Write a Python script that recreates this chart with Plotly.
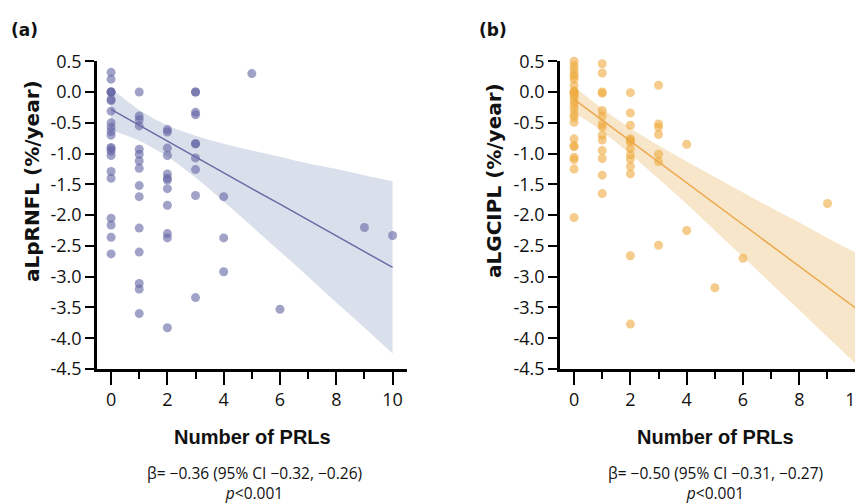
import plotly.graph_objects as go

W, H = 863, 504

# ---------------- data ----------------
left_prl = ([0] * 22 + [1] * 15 + [2] * 12 + [3] * 10 + [4] * 3 + [5, 6, 9, 10])
left_rnfl = [0.32, 0.21, 0.0, 0.0, 0.0, -0.12, -0.14, -0.31, -0.50, -0.57, -0.64,
             -0.70, -0.90, -0.92, -0.96, -1.03, -1.29, -1.40, -2.05, -2.16, -2.36, -2.63,
             0.0, -0.39, -0.45, -0.55, -0.93, -1.01, -1.12, -1.24, -1.52, -1.70, -2.21,
             -2.60, -3.11, -3.20, -3.60,
             -0.61, -0.65, -0.91, -1.03, -1.33, -1.40, -1.43, -1.57, -1.84, -2.30, -2.37, -3.83,
             0.0, 0.0, -0.33, -0.37, -0.84, -0.84, -1.07, -1.26, -1.68, -3.34,
             -1.70, -2.37, -2.92,
             0.30, -3.53, -2.20, -2.33]

right_prl = ([0] * 25 + [1] * 14 + [2] * 13 + [3] * 7 + [4] * 2 + [5, 6, 9])
right_gcipl = [0.50, 0.43, 0.37, 0.30, 0.26, 0.21, 0.11, 0.02, 0.0, -0.02, -0.05, -0.10,
               -0.16, -0.22, -0.28, -0.36, -0.41, -0.49, -0.76, -0.87, -0.89, -1.06, -1.10,
               -1.25, -2.04,
               0.46, 0.31, 0.0, -0.02, -0.30, -0.39, -0.52, -0.57, -0.70, -0.78, -0.95,
               -1.08, -1.35, -1.65,
               -0.01, -0.34, -0.54, -0.76, -0.78, -0.81, -0.92, -1.02, -1.09, -1.21, -1.33,
               -2.66, -3.77,
               0.11, -0.52, -0.57, -0.69, -1.01, -1.13, -2.49,
               -0.85, -2.25,
               -3.18, -2.70, -1.81]

fit_x = [0, 1, 2, 3, 4, 5, 6, 7, 8, 9, 10]
left_fit = [-0.28, -0.54, -0.79, -1.05, -1.31, -1.57, -1.82, -2.08, -2.34, -2.59, -2.85]
left_upper = [0.06, -0.29, -0.54, -0.71, -0.84, -0.95, -1.05, -1.16, -1.25, -1.35, -1.45]
left_lower = [-0.62, -0.79, -1.05, -1.39, -1.78, -2.18, -2.59, -3.00, -3.42, -3.83, -4.25]
right_fit = [-0.12, -0.46, -0.80, -1.14, -1.48, -1.82, -2.15, -2.49, -2.83, -3.17, -3.51]
right_upper = [0.09, -0.27, -0.59, -0.87, -1.13, -1.38, -1.63, -1.88, -2.12, -2.37, -2.61]
right_lower = [-0.33, -0.64, -1.01, -1.41, -1.82, -2.25, -2.68, -3.11, -3.54, -3.98, -4.41]

y_ticks = [0.5, 0.0, -0.5, -1.0, -1.5, -2.0, -2.5, -3.0, -3.5, -4.0, -4.5]
y_tick_labels = ["0.5", "0.0", "-0.5", "-1.0", "-1.5", "-2.0", "-2.5", "-3.0",
                 "-3.5", "-4.0", "-4.5"]
x_ticks = [0, 2, 4, 6, 8, 10]
x_tick_labels = ["0", "2", "4", "6", "8", "10"]

panel_labels = ["(a)", "(b)"]
y_titles = ["aLpRNFL (%/year)", "aLGCIPL (%/year)"]
x_title = "Number of PRLs"
stats = ["β= −0.36 (95% CI −0.32, −0.26)", "β= −0.50 (95% CI −0.31, −0.27)"]
p_text = "<i>p</i>&lt;0.001"

# ---------------- styles ----------------
L_PT = "rgba(98,100,163,0.6)"
L_LINE = "#6a6ba6"
L_BAND = "rgb(218,224,235)"
R_PT = "rgba(238,170,62,0.6)"
R_LINE = "#eca84c"
R_BAND = "rgb(247,230,201)"

TICK_FONT = dict(family="Open Sans, sans-serif", size=18, color="#111")

fig = go.Figure()


def add_panel(xs, ys, fx, fit, up, lo, pt, lc, bc, xa, ya):
    fig.add_trace(go.Scatter(x=fx, y=up, mode="lines", line=dict(width=0, shape="spline"),
                             hoverinfo="skip", showlegend=False, xaxis=xa, yaxis=ya))
    fig.add_trace(go.Scatter(x=fx, y=lo, mode="lines", line=dict(width=0, shape="spline"),
                             fill="tonexty", fillcolor=bc, hoverinfo="skip",
                             showlegend=False, xaxis=xa, yaxis=ya))
    fig.add_trace(go.Scatter(x=xs, y=ys, mode="markers",
                             marker=dict(size=9, color=pt, line=dict(width=0)),
                             cliponaxis=False, showlegend=False, xaxis=xa, yaxis=ya))
    fig.add_trace(go.Scatter(x=fx, y=fit, mode="lines", line=dict(width=1.5, color=lc),
                             showlegend=False, xaxis=xa, yaxis=ya))


add_panel(left_prl, left_rnfl, fit_x, left_fit, left_upper, left_lower,
          L_PT, L_LINE, L_BAND, "x", "y")
add_panel(right_prl, right_gcipl, fit_x, right_fit, right_upper, right_lower,
          R_PT, R_LINE, R_BAND, "x2", "y2")

ydom = [1 - 365.4 / H, 1 - 42.3 / H]
common_x = dict(showline=True, linewidth=2.5, linecolor="black", ticks="outside",
                ticklen=13, tickwidth=2, tickcolor="black", tickvals=x_ticks,
                ticktext=x_tick_labels, tickfont=TICK_FONT, showgrid=False,
                zeroline=False, fixedrange=True, range=[-0.5, 10.5],
                ticklabeloverflow="allow",
                minor=dict(dtick=1, tick0=0, ticks="outside", ticklen=7, tickwidth=2,
                           tickcolor="black", showgrid=False))
common_y = dict(showline=True, linewidth=2.5, linecolor="black", ticks="outside",
                ticklen=9, tickwidth=2, tickcolor="black", tickvals=y_ticks,
                ticktext=y_tick_labels, tickfont=TICK_FONT, showgrid=False,
                zeroline=False, range=[-4.5, 0.5], domain=ydom)

fig.update_layout(
    width=W, height=H, margin=dict(l=0, r=0, t=0, b=0),
    paper_bgcolor="white", plot_bgcolor="white",
    xaxis=dict(domain=[89 / W, 398.65 / W], anchor="y", **common_x),
    yaxis=dict(anchor="x", **common_y),
    xaxis2=dict(domain=[552 / W, 861.7 / W], anchor="y2", **common_x),
    yaxis2=dict(anchor="x2", **common_y),
)


def ann(text, px, py, font, angle=0, xanchor="center"):
    fig.add_annotation(text=text, x=px / W, y=1 - py / H, xref="paper", yref="paper",
                       showarrow=False, font=font, textangle=angle, xanchor=xanchor,
                       yanchor="middle")


LBL_FONT = dict(family="DejaVu Sans, sans-serif", size=17, color="#111", weight="bold")
YT_FONT = dict(family="DejaVu Sans, sans-serif", size=20, color="#111", weight="bold")
XT_FONT = dict(family="Liberation Sans, Arial, sans-serif", size=20, color="#111",
               weight="bold")
ST_FONT = dict(family="Open Sans, sans-serif", size=15.5, color="#111")

ann(panel_labels[0], 1, 9, LBL_FONT, xanchor="left")
ann(panel_labels[1], 469, 9, LBL_FONT, xanchor="left")
ann(y_titles[0], 24, 168, YT_FONT, angle=-90)
ann(y_titles[1], 486, 168, YT_FONT, angle=-90)
ann(x_title, 244, 437, XT_FONT)
ann(x_title, 707, 437, XT_FONT)
ann(stats[0] + "<br>" + p_text, 246, 485, ST_FONT)
ann(stats[1] + "<br>" + p_text, 707, 485, ST_FONT)

fig.write_html("out.html")
